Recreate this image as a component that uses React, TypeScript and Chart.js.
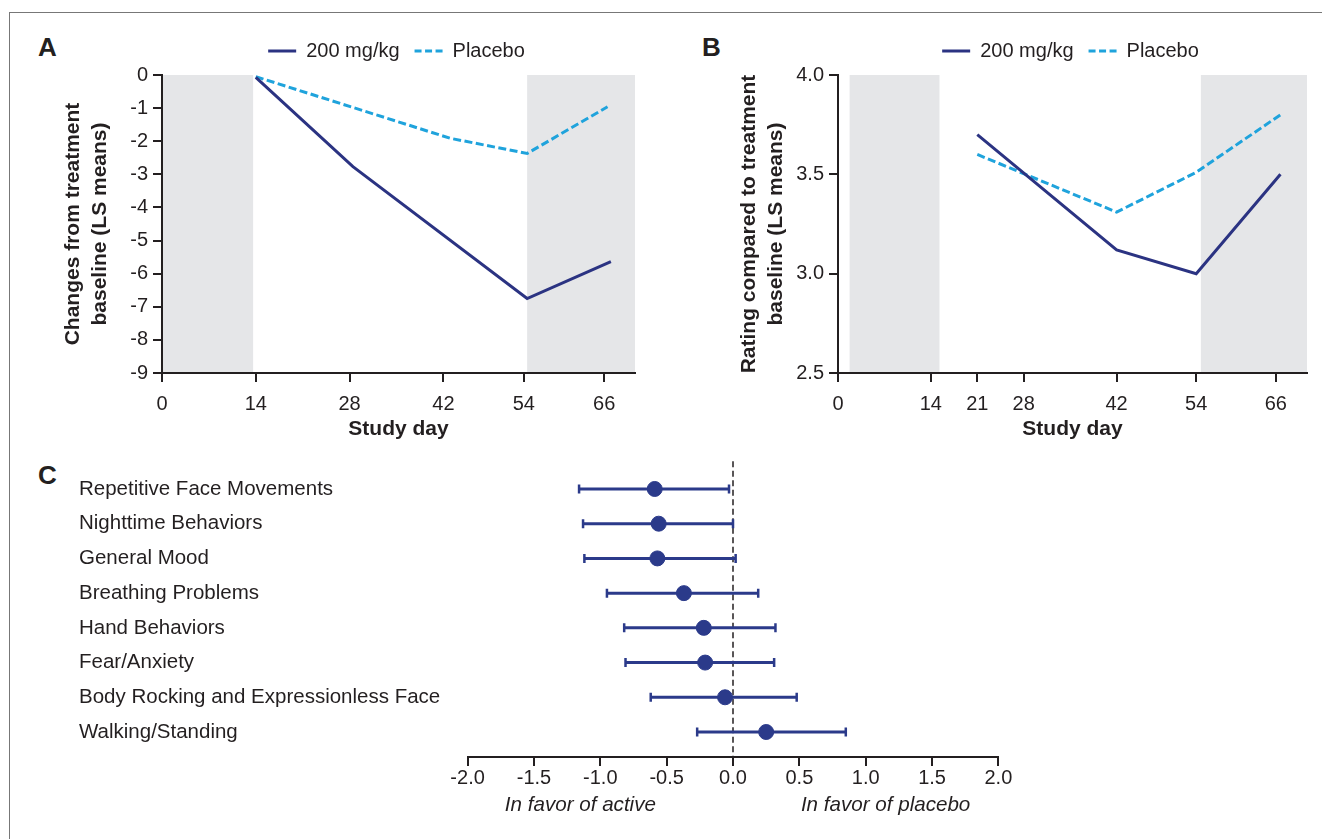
import React, { useEffect, useRef } from "react";
import { Chart, registerables } from "chart.js";

Chart.register(...registerables);

const FONT = "'Liberation Sans', Arial, Helvetica, sans-serif";
const NAVY = "#2b3382";
const CYAN = "#1fa3dc";
const BAND = "#e5e6e8";
const INK = "#231f20";
const NAVY_F = "#2b3a8a";

// ---------- Panel A ----------
const A_X_TICKS = [0, 14, 28, 42, 54, 66];
const A_X_MAX = 70.6;
const A_Y_MIN = -9;
const A_Y_MAX = 0;
const A_Y_STEP = 1;
const A_ACTIVE_DAYS = [14, 28.5, 54.5, 67];
const A_ACTIVE = [-0.07, -2.77, -6.75, -5.64];
const A_PLACEBO_DAYS = [14, 43, 54.5, 66.5];
const A_PLACEBO = [-0.05, -1.91, -2.37, -0.96];
const A_BANDS = [
  [0, 13.6],
  [54.5, 70.6],
];
const A_Y_TITLE = ["Changes from treatment", "baseline (LS means)"];

// ---------- Panel B ----------
const B_X_TICKS = [0, 14, 21, 28, 42, 54, 66];
const B_X_MAX = 70.7;
const B_Y_MIN = 2.5;
const B_Y_MAX = 4.0;
const B_Y_STEP = 0.5;
const B_ACTIVE_DAYS = [21, 42, 54, 66.7];
const B_ACTIVE = [3.7, 3.12, 3.0, 3.5];
const B_PLACEBO_DAYS = [21, 42, 54, 66.7];
const B_PLACEBO = [3.6, 3.31, 3.51, 3.8];
const B_BANDS = [
  [1.75, 15.3],
  [54.7, 70.7],
];
const B_Y_TITLE = ["Rating compared to treatment", "baseline (LS means)"];

const SERIES_LABELS = ["200 mg/kg", "Placebo"];
const X_TITLE = "Study day";

// ---------- Panel C ----------
const C_ROWS = [
  "Repetitive Face Movements",
  "Nighttime Behaviors",
  "General Mood",
  "Breathing Problems",
  "Hand Behaviors",
  "Fear/Anxiety",
  "Body Rocking and Expressionless Face",
  "Walking/Standing",
];
const C_EST = [-0.59, -0.56, -0.57, -0.37, -0.22, -0.21, -0.06, 0.25];
const C_LOW = [-1.16, -1.13, -1.12, -0.95, -0.82, -0.81, -0.62, -0.27];
const C_HIGH = [-0.03, 0.0, 0.02, 0.19, 0.32, 0.31, 0.48, 0.85];
const C_X_MIN = -2;
const C_X_MAX = 2;
const C_X_STEP = 0.5;
const C_FAVOR_LABELS = ["In favor of active", "In favor of placebo"];
const C_FAVOR_AT = [-1.15, 1.15];

const bandPlugin = {
  id: "bands",
  beforeDraw(chart: any, _args: any, opts: any) {
    const bands = opts && opts.bands;
    if (!bands) return;
    const { ctx, chartArea } = chart;
    const xs = chart.scales.x;
    ctx.save();
    ctx.fillStyle = BAND;
    for (const [a, b] of bands) {
      const x0 = xs.getPixelForValue(a);
      const x1 = xs.getPixelForValue(Math.min(b, xs.max));
      ctx.fillRect(x0, chartArea.top, x1 - x0, chartArea.bottom - chartArea.top);
    }
    ctx.restore();
  },
};

const legendPlugin = {
  id: "lineLegend",
  afterDraw(chart: any, _args: any, opts: any) {
    const { ctx, chartArea } = chart;
    ctx.save();
    ctx.font = `20px ${FONT}`;
    const sample = 28;
    const gapT = 10;
    const gapI = 15;
    const items = chart.data.datasets.map((ds: any) => ({
      label: ds.label,
      color: ds.borderColor,
      dashed: !!(ds.borderDash && ds.borderDash.length),
    }));
    const widths = items.map((it: any) => sample + gapT + ctx.measureText(it.label).width);
    const total = widths.reduce((a: number, b: number) => a + b, 0) + gapI * (items.length - 1);
    let x = (chartArea.left + chartArea.right) / 2 - total / 2 - 2;
    const y = opts.y;
    items.forEach((it: any, i: number) => {
      ctx.strokeStyle = it.color;
      ctx.lineWidth = 3;
      ctx.setLineDash(it.dashed ? [7, 3.5] : []);
      ctx.beginPath();
      ctx.moveTo(x, y);
      ctx.lineTo(x + sample, y);
      ctx.stroke();
      ctx.setLineDash([]);
      ctx.fillStyle = INK;
      ctx.textBaseline = "middle";
      ctx.textAlign = "left";
      ctx.fillText(it.label, x + sample + gapT, y);
      x += widths[i] + gapI;
    });
    ctx.restore();
  },
};

function axisGrid() {
  return {
    display: true,
    drawOnChartArea: false,
    drawTicks: true,
    tickLength: 9,
    color: INK,
    lineWidth: 2,
  };
}

function lineConfig(o: any) {
  return {
    type: "line",
    data: {
      datasets: [
        {
          label: SERIES_LABELS[0],
          data: o.activeDays.map((x: number, i: number) => ({ x, y: o.active[i] })),
          borderColor: NAVY,
          backgroundColor: NAVY,
          borderWidth: 3,
          pointRadius: 0,
          tension: 0,
        },
        {
          label: SERIES_LABELS[1],
          data: o.placeboDays.map((x: number, i: number) => ({ x, y: o.placebo[i] })),
          borderColor: CYAN,
          backgroundColor: CYAN,
          borderWidth: 3,
          borderDash: [8, 3.5],
          pointRadius: 0,
          tension: 0,
        },
      ],
    },
    options: {
      animation: false,
      responsive: false,
      events: [],
      layout: { padding: { top: 45, right: 15, left: 0, bottom: 0 } },
      plugins: {
        legend: { display: false },
        tooltip: { enabled: false },
        bands: { bands: o.bands },
        lineLegend: { y: 21 },
      },
      scales: {
        x: {
          type: "linear",
          min: 0,
          max: o.xMax,
          afterBuildTicks: (s: any) => {
            s.ticks = o.xTicks.map((v: number) => ({ value: v }));
          },
          afterFit: (s: any) => {
            s.height = 70;
          },
          ticks: {
            autoSkip: false,
            maxRotation: 0,
            font: { family: FONT, size: 20 },
            color: INK,
            padding: 10.5,
            callback: (v: any) => String(v),
          },
          grid: axisGrid(),
          border: { display: true, color: INK, width: 2 },
          title: {
            display: true,
            text: X_TITLE,
            color: INK,
            font: { family: FONT, size: 21, weight: "bold" },
            padding: { top: 0, bottom: 1 },
          },
        },
        y: {
          type: "linear",
          min: o.yMin,
          max: o.yMax,
          afterFit: (s: any) => {
            s.width = 112;
          },
          ticks: {
            stepSize: o.yStep,
            font: { family: FONT, size: 20 },
            color: INK,
            padding: 5,
            callback: o.yFmt,
          },
          grid: axisGrid(),
          border: { display: true, color: INK, width: 2 },
          title: {
            display: true,
            text: o.yTitle,
            color: INK,
            font: { family: FONT, size: 21, weight: "bold", lineHeight: 27 / 21 },
            padding: { top: 9.5, bottom: 0 },
          },
        },
      },
    },
    plugins: [bandPlugin, legendPlugin],
  };
}

const forestPlugin = {
  id: "forestExtras",
  beforeDatasetsDraw(chart: any) {
    const { ctx, chartArea } = chart;
    const x = chart.scales.x.getPixelForValue(0);
    ctx.save();
    ctx.strokeStyle = INK;
    ctx.lineWidth = 1.5;
    ctx.setLineDash([6, 3.5]);
    ctx.beginPath();
    ctx.moveTo(x, chartArea.top);
    ctx.lineTo(x, chartArea.bottom);
    ctx.stroke();
    ctx.restore();
  },
  afterDraw(chart: any, _a: any, opts: any) {
    const { ctx } = chart;
    const xs = chart.scales.x;
    ctx.save();
    ctx.font = `italic 20.6px ${FONT}`;
    ctx.fillStyle = INK;
    ctx.textAlign = "center";
    ctx.textBaseline = "middle";
    C_FAVOR_LABELS.forEach((t, i) => {
      ctx.fillText(t, xs.getPixelForValue(C_FAVOR_AT[i]), opts.y);
    });
    ctx.restore();
  },
};

function forestConfig() {
  return {
    type: "scatter",
    data: {
      datasets: [
        {
          label: "estimate",
          data: C_EST.map((x, i) => ({ x, y: i })),
          pointRadius: 7.5,
          pointBackgroundColor: NAVY_F,
          pointBorderColor: NAVY_F,
          pointBorderWidth: 1,
        },
        {
          label: "caps",
          data: [
            ...C_LOW.map((x, i) => ({ x, y: i })),
            ...C_HIGH.map((x, i) => ({ x, y: i })),
          ],
          pointStyle: "line",
          rotation: 90,
          pointRadius: 4.5,
          pointBorderColor: NAVY_F,
          pointBorderWidth: 2.5,
        },
        ...C_ROWS.map((_, i) => ({
          label: "ci" + i,
          data: [
            { x: C_LOW[i], y: i },
            { x: C_HIGH[i], y: i },
          ],
          showLine: true,
          borderColor: NAVY_F,
          borderWidth: 3,
          pointRadius: 0,
        })),
      ],
    },
    options: {
      animation: false,
      responsive: false,
      events: [],
      layout: { padding: { top: 21.2, right: 31.6, left: 9, bottom: 0 } },
      plugins: {
        legend: { display: false },
        tooltip: { enabled: false },
        forestExtras: { y: 365.5 },
      },
      scales: {
        x: {
          type: "linear",
          min: C_X_MIN,
          max: C_X_MAX,
          afterFit: (s: any) => {
            s.height = 73;
          },
          ticks: {
            stepSize: C_X_STEP,
            autoSkip: false,
            maxRotation: 0,
            font: { family: FONT, size: 20 },
            color: INK,
            padding: 0.5,
            callback: (v: any) => Number(v).toFixed(1),
          },
          grid: axisGrid(),
          border: { display: true, color: INK, width: 2 },
        },
        y: {
          type: "linear",
          min: -0.8,
          max: 7.72,
          reverse: true,
          afterBuildTicks: (s: any) => {
            s.ticks = C_ROWS.map((_, i) => ({ value: i }));
          },
          afterFit: (s: any) => {
            s.width = 388.6;
          },
          ticks: {
            autoSkip: false,
            crossAlign: "far",
            padding: 0,
            font: { family: FONT, size: 20.5 },
            color: INK,
            callback: (_v: any, i: number) => C_ROWS[i],
          },
          grid: { display: false },
          border: { display: false },
        },
      },
    },
    plugins: [forestPlugin],
  };
}

function ChartCanvas(props: { left: number; top: number; width: number; height: number; build: () => any }) {
  const ref = useRef<HTMLCanvasElement | null>(null);
  useEffect(() => {
    if (!ref.current) return;
    const chart = new Chart(ref.current, props.build());
    return () => chart.destroy();
  }, []);
  return (
    <canvas
      ref={ref}
      width={props.width}
      height={props.height}
      style={{
        position: "absolute",
        left: props.left,
        top: props.top,
        width: props.width,
        height: props.height,
      }}
    />
  );
}

const letterStyle = (left: number, top: number): React.CSSProperties => ({
  position: "absolute",
  left,
  top,
  fontFamily: FONT,
  fontWeight: "bold",
  fontSize: 26,
  lineHeight: "26px",
  color: INK,
});

export default function App() {
  return (
    <div
      style={{
        position: "fixed",
        left: 0,
        top: 0,
        width: 1322,
        height: 839,
        overflow: "hidden",
        background: "#ffffff",
      }}
    >
      <div
        style={{
          position: "absolute",
          left: 9,
          top: 12,
          width: 1500,
          height: 1000,
          borderTop: "1px solid #777777",
          borderLeft: "1px solid #777777",
        }}
      />
      <div style={letterStyle(38, 34.2)}>A</div>
      <div style={letterStyle(702, 34.2)}>B</div>
      <div style={letterStyle(38, 462.2)}>C</div>
      <ChartCanvas
        left={50}
        top={30}
        width={600}
        height={413}
        build={() =>
          lineConfig({
            xTicks: A_X_TICKS,
            xMax: A_X_MAX,
            yMin: A_Y_MIN,
            yMax: A_Y_MAX,
            yStep: A_Y_STEP,
            yFmt: (v: any) => String(v),
            yTitle: A_Y_TITLE,
            activeDays: A_ACTIVE_DAYS,
            active: A_ACTIVE,
            placeboDays: A_PLACEBO_DAYS,
            placebo: A_PLACEBO,
            bands: A_BANDS,
          })
        }
      />
      <ChartCanvas
        left={726}
        top={30}
        width={596}
        height={413}
        build={() =>
          lineConfig({
            xTicks: B_X_TICKS,
            xMax: B_X_MAX,
            yMin: B_Y_MIN,
            yMax: B_Y_MAX,
            yStep: B_Y_STEP,
            yFmt: (v: any) => Number(v).toFixed(1),
            yTitle: B_Y_TITLE,
            activeDays: B_ACTIVE_DAYS,
            active: B_ACTIVE,
            placeboDays: B_PLACEBO_DAYS,
            placebo: B_PLACEBO,
            bands: B_BANDS,
          })
        }
      />
      <ChartCanvas left={70} top={440} width={960} height={390} build={forestConfig} />
    </div>
  );
}
